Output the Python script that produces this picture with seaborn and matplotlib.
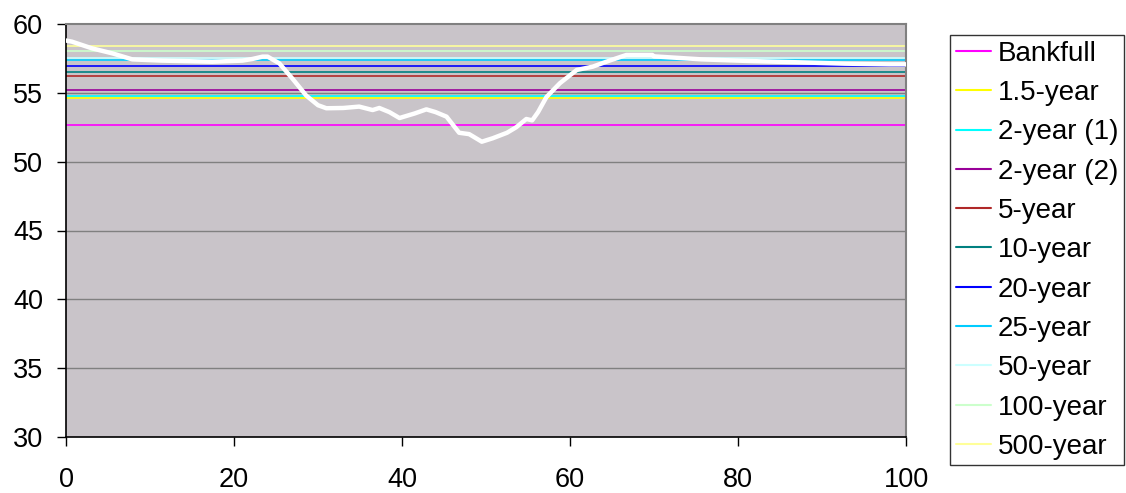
import pandas as pd
import numpy as np
import matplotlib
matplotlib.use("Agg")
import matplotlib.pyplot as plt
import seaborn as sns

# ---------------- data ----------------
# flood / bankfull water surface levels
level_names = ['Bankfull', '1.5-year', '2-year (1)', '2-year (2)', '5-year', '10-year',
               '20-year', '25-year', '50-year', '100-year', '500-year']
level_values = [52.64, 54.65, 54.75, 55.18, 56.22, 56.54, 56.97, 57.39, 57.5, 58.02, 58.42]
level_colors = ['#FF00FF', '#FFFF00', '#00FFFF', '#990099', '#B02828', '#008080',
                '#0000FF', '#00CCFF', '#CCFFFF', '#CCFFCC', '#FFFF99']

# ground profile (station, elevation)
station = [0, 0.7, 3.1, 5.5, 7.9, 11.4, 17.4, 21, 22.2, 23.4, 24, 25.4, 27, 28.6, 30, 31,
           33, 34.9, 36.5, 37.3, 38.5, 39.7, 41.5, 42.9, 44, 45.3, 46.8, 48, 49.5, 50.8,
           52.5, 53.6, 54.8, 55.5, 56.2, 57.2, 58.8, 60.8, 62.7, 64.7, 66.7, 69.8, 70,
           75.7, 81.4, 87, 92.7, 98, 100]
elevation = [58.8, 58.72, 58.23, 57.87, 57.43, 57.34, 57.26, 57.34, 57.46, 57.63, 57.63,
             57.14, 56.0, 54.8, 54.1, 53.88, 53.9, 54.0, 53.75, 53.9, 53.6, 53.17, 53.5,
             53.8, 53.6, 53.27, 52.1, 52.0, 51.45, 51.7, 52.1, 52.5, 53.1, 53.0, 53.6,
             54.7, 55.7, 56.66, 56.9, 57.34, 57.75, 57.75, 57.65, 57.43, 57.31, 57.22,
             57.12, 57.07, 57.07]

x_ticks = [0, 20, 40, 60, 80, 100]
y_ticks = [30, 35, 40, 45, 50, 55, 60]

# ---------------- build tables ----------------
levels_df = pd.DataFrame({
    'name': np.repeat(level_names, 2),
    'x': [0, 100] * len(level_names),
    'y': np.repeat(level_values, 2),
})
profile_df = pd.DataFrame({'station': station, 'elevation': elevation})

# ---------------- plot ----------------
sns.set_style("white")
plt.rcParams['font.family'] = ['Liberation Sans', 'DejaVu Sans']
plt.rcParams['text.color'] = 'black'
plt.rcParams['xtick.color'] = 'black'
plt.rcParams['ytick.color'] = 'black'

fig = plt.figure(figsize=(11.26, 4.93), dpi=100)
ax = fig.add_axes([66 / 1126, 1 - 437 / 493, (906 - 66) / 1126, (437 - 24) / 493])
ax.set_facecolor('#C9C4C9')

for yv in y_ticks[1:-1]:
    ax.axhline(yv, color='#808080', lw=1.0, zorder=1)

sns.lineplot(data=levels_df, x='x', y='y', hue='name', hue_order=level_names,
             palette=dict(zip(level_names, level_colors)), lw=1.2, ax=ax, zorder=2)
sns.lineplot(data=profile_df, x='station', y='elevation', color='white', lw=3.2,
             ax=ax, zorder=3, sort=False, legend=False)

ax.set_xlim(0, 100)
ax.set_ylim(30, 60)
ax.set_xticks(x_ticks)
ax.set_yticks(y_ticks)
ax.set_xlabel('')
ax.set_ylabel('')
ax.tick_params(axis='both', direction='out', length=6.5, width=1, labelsize=19.5,
               color='black', labelcolor='black', left=True, bottom=True)
ax.tick_params(axis='x', pad=15)
ax.tick_params(axis='y', pad=10)

for side in ['top', 'right']:
    ax.spines[side].set_color('#808080')
    ax.spines[side].set_linewidth(1.5)
for side in ['left', 'bottom']:
    ax.spines[side].set_color('black')
    ax.spines[side].set_linewidth(1.2)

leg = ax.legend(loc='upper left', bbox_to_anchor=(950 / 1126, 1 - 35 / 493),
                bbox_transform=fig.transFigure, fontsize=20, frameon=True,
                fancybox=False, edgecolor='black', handlelength=1.26,
                handletextpad=0.25, labelspacing=0.48, borderpad=0.2,
                borderaxespad=0)
leg.get_frame().set_linewidth(1.0)
for text in leg.get_texts():
    text.set_color('black')
for line in leg.get_lines():
    line.set_linewidth(1.5)

fig.savefig('out.png', dpi=100)
